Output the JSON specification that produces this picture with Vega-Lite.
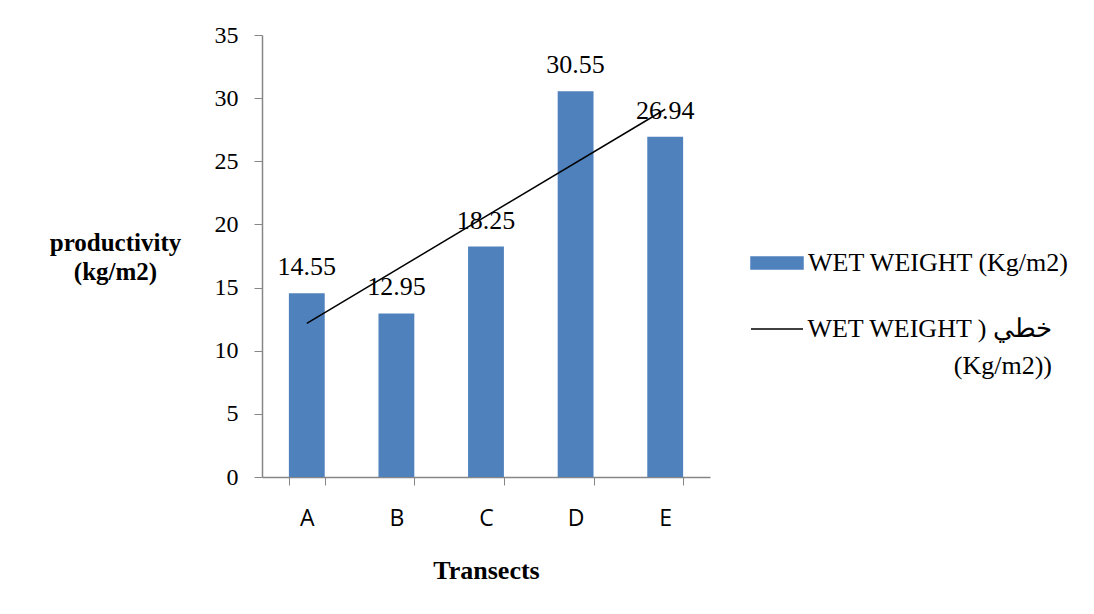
{
  "$schema": "https://vega.github.io/schema/vega-lite/v6.json",
  "width": 448,
  "height": 442,
  "autosize": {"type": "none"},
  "padding": {"left": 262, "top": 35, "right": 384, "bottom": 137},
  "background": "white",
  "config": {"view": {"stroke": null}},
  "datasets": {
    "bars": [
      {"transect": "A", "weight": 14.55},
      {"transect": "B", "weight": 12.95},
      {"transect": "C", "weight": 18.25},
      {"transect": "D", "weight": 30.55},
      {"transect": "E", "weight": 26.94}
    ],
    "trend": [
      {"transect": "A", "trend": 12.17},
      {"transect": "E", "trend": 29.12}
    ]
  },
  "encoding": {
    "x": {
      "field": "transect",
      "type": "nominal",
      "scale": {"paddingInner": 0.6, "paddingOuter": 0.3},
      "axis": {
        "title": "Transects",
        "labelAngle": 0,
        "tickBand": "extent",
        "labelFont": "Open Sans",
        "labelFontSize": 23,
        "labelColor": "#000000",
        "labelPadding": 22,
        "tickSize": 8,
        "tickColor": "#868686",
        "domainColor": "#868686",
        "domainWidth": 1.5,
        "titleFont": "Liberation Serif",
        "titleFontSize": 26,
        "titleFontWeight": "bold",
        "titleColor": "#000000",
        "titlePadding": 27
      }
    }
  },
  "layer": [
    {
      "data": {"name": "bars"},
      "mark": {"type": "bar", "color": "#4F81BD"},
      "encoding": {
        "y": {
          "field": "weight",
          "type": "quantitative",
          "scale": {"domain": [0, 35], "nice": false},
          "axis": {
            "values": [0, 5, 10, 15, 20, 25, 30, 35],
            "grid": false,
            "title": ["productivity", "(kg/m2)"],
            "titleAngle": 0,
            "titleX": -147,
            "titleY": 195,
            "titleAlign": "center",
            "titleBaseline": "top",
            "titleLineHeight": 29,
            "titleFont": "Liberation Serif",
            "titleFontSize": 25,
            "titleFontWeight": "bold",
            "titleColor": "#000000",
            "labelFont": "Liberation Serif",
            "labelFontSize": 24,
            "labelColor": "#000000",
            "labelPadding": 16,
            "tickSize": 8,
            "tickColor": "#868686",
            "domainColor": "#868686",
            "domainWidth": 1.5
          }
        },
        "color": {
          "datum": "WET WEIGHT (Kg/m2)",
          "type": "nominal",
          "scale": {"domain": ["WET WEIGHT (Kg/m2)", "trend"], "range": ["#4F81BD", "#000000"]},
          "legend": {
            "title": null,
            "orient": "none",
            "legendX": 488,
            "legendY": 201,
            "rowPadding": 26,
            "symbolSize": 2704,
            "symbolStrokeWidth": 1.5,
            "labelFont": "Liberation Serif",
            "labelFontSize": 26,
            "labelColor": "#000000",
            "labelOffset": 4,
            "labelLimit": 400,
            "labelExpr": "datum.value === 'trend' ? ['WET WEIGHT ) خطي', '(Kg/m2))'] : datum.label",
            "encode": {
              "labels": {
                "update": {
                  "lineHeight": {"value": 37},
                  "align": {"signal": "datum.value === 'trend' ? 'right' : 'left'"},
                  "dx": {"signal": "datum.value === 'trend' ? 244 : 0"}
                }
              },
              "symbols": {
                "update": {
                  "shape": {"signal": "datum.value === 'trend' ? 'stroke' : 'M-1,-0.23H1V0.23H-1Z'"},
                  "fill": {"signal": "datum.value === 'trend' ? 'transparent' : '#4F81BD'"},
                  "stroke": {"signal": "datum.value === 'trend' ? '#000000' : 'transparent'"},
                  "opacity": {"value": 1}
                }
              }
            }
          }
        }
      }
    },
    {
      "data": {"name": "bars"},
      "mark": {"type": "text", "font": "Liberation Serif", "fontSize": 26, "baseline": "alphabetic", "dy": -18, "color": "#000000"},
      "encoding": {
        "y": {"field": "weight", "type": "quantitative"},
        "text": {"field": "weight", "type": "quantitative", "format": ".2f"}
      }
    },
    {
      "data": {"name": "trend"},
      "mark": {"type": "line", "strokeWidth": 1.5},
      "encoding": {
        "y": {"field": "trend", "type": "quantitative"},
        "color": {"datum": "trend", "type": "nominal"}
      }
    }
  ]
}
